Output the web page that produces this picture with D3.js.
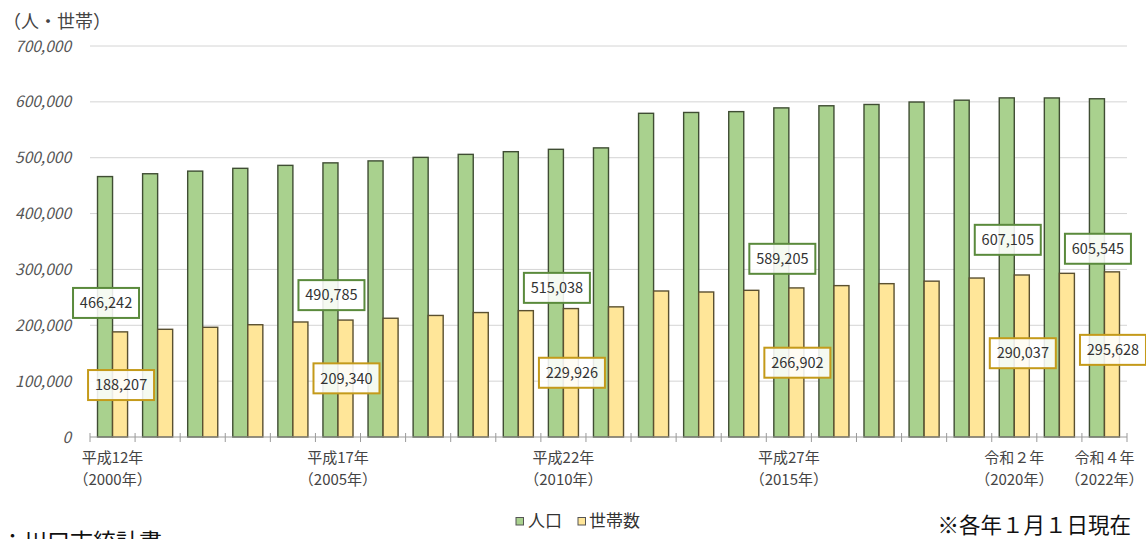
<!DOCTYPE html>
<html lang="ja">
<head>
<meta charset="utf-8">
<script src="https://cdn.jsdelivr.net/npm/d3@7"></script>
<style>
  html, body { margin: 0; padding: 0; background: #fff; }
  svg { display: block; font-family: "Noto Sans CJK JP", "Noto Sans", sans-serif; }
</style>
</head>
<body>
<svg id="chart" width="1146" height="539"></svg>
<script>
// 川口市の人口・世帯数（各年1月1日現在）
const years = d3.range(2000, 2023);
const population = [466242, 471300, 476000, 481000, 486300, 490785, 494300, 500600, 506000, 510800,
                    515038, 517600, 579500, 581000, 582500, 589205, 593000, 595300, 599700, 603000,
                    607105, 607000, 605545];
const households = [188207, 192800, 196400, 201000, 205900, 209340, 212600, 217600, 222800, 226200,
                    229926, 233000, 261400, 259600, 262600, 266902, 271000, 274500, 279000, 284600,
                    290037, 293000, 295628];
const yTicks = [0, 100000, 200000, 300000, 400000, 500000, 600000, 700000];
// 軸ラベルを付ける年（和暦・西暦）
const axisLabels = [
  { year: 2000, era: "平成12年", ad: "（2000年）" },
  { year: 2005, era: "平成17年", ad: "（2005年）" },
  { year: 2010, era: "平成22年", ad: "（2010年）" },
  { year: 2015, era: "平成27年", ad: "（2015年）" },
  { year: 2020, era: "令和２年", ad: "（2020年）" },
  { year: 2022, era: "令和４年", ad: "（2022年）" }
];
const labelledYears = [2000, 2005, 2010, 2015, 2020, 2022];
// 値ラベルの縦位置（y軸の値で指定）
const popLabelAt = [240000, 254000, 267000, 319000, 353000, 337000];
const hhLabelAt = [93000, 105000, 115000, 133000, 150000, 156000];

const series = [
  { key: "pop", name: "人口", values: population, fill: "#a9d18e", stroke: "#3f4d33", box: "#5a8a3c" },
  { key: "hh", name: "世帯数", values: households, fill: "#ffe699", stroke: "#5a5030", box: "#c49a1a" }
];

const svg = d3.select("#chart");
const x = d3.scaleBand().domain(years).range([90, 1127]).padding(0);
const xs = d3.scaleBand().domain(series.map(s => s.key)).range([0, x.bandwidth()])
  .paddingInner(0).paddingOuter(0.5);
const y = d3.scaleLinear().domain([0, 700000]).range([437, 46]);
const fmt = d3.format(",");

// 目盛線
svg.append("g").selectAll("line").data(yTicks.filter(t => t > 0)).join("line")
  .attr("x1", 90).attr("x2", 1127)
  .attr("y1", d => y(d)).attr("y2", d => y(d))
  .attr("stroke", "#d4d4d4").attr("stroke-width", 1);

// y軸ラベル
svg.append("g").selectAll("text").data(yTicks).join("text")
  .attr("x", 71).attr("y", d => y(d))
  .attr("dy", "0.36em")
  .attr("text-anchor", "end")
  .attr("font-size", 15.5).attr("font-style", "italic")
  .attr("fill", "#555")
  .text(d => fmt(d));

// 単位
svg.append("text").attr("x", 3).attr("y", 22).attr("dy", "0.35em")
  .attr("font-size", 18).attr("fill", "#444").text("（人・世帯）");

// 棒
series.forEach(s => {
  svg.append("g").selectAll("rect").data(years).join("rect")
    .attr("x", (d) => x(d) + xs(s.key))
    .attr("width", xs.bandwidth())
    .attr("y", (d, i) => y(s.values[i]))
    .attr("height", (d, i) => y(0) - y(s.values[i]))
    .attr("fill", s.fill)
    .attr("stroke", s.stroke)
    .attr("stroke-width", 1.4);
});

// x軸
const xAxis = svg.append("g");
xAxis.append("line").attr("x1", 90).attr("x2", 1127).attr("y1", y(0)).attr("y2", y(0))
  .attr("stroke", "#9a9a9a").attr("stroke-width", 1);
xAxis.selectAll("line.tick").data(years.concat([null])).join("line")
  .attr("class", "tick")
  .attr("x1", (d, i) => 90 + i * x.step()).attr("x2", (d, i) => 90 + i * x.step())
  .attr("y1", y(0) - 4).attr("y2", y(0) + 5)
  .attr("stroke", "#9a9a9a").attr("stroke-width", 1);
const xl = xAxis.selectAll("g.lab").data(axisLabels).join("g").attr("class", "lab")
  .attr("transform", d => `translate(${x(d.year) + x.bandwidth() / 2},0)`);
xl.append("text").attr("y", 458).attr("dy", "0.35em").attr("text-anchor", "middle")
  .attr("font-size", 15).attr("fill", "#444").text(d => d.era);
xl.append("text").attr("y", 480).attr("dy", "0.35em").attr("text-anchor", "middle")
  .attr("font-size", 15).attr("fill", "#444").text(d => d.ad);

// 値ラベル
function drawLabels(s, at) {
  const g = svg.append("g").selectAll("g").data(labelledYears).join("g")
    .attr("transform", (d, i) => `translate(${x(d) + xs(s.key) + xs.bandwidth() / 2 + 1},${y(at[i])})`);
  g.append("rect").attr("x", -33).attr("y", -15).attr("width", 66).attr("height", 30)
    .attr("fill", "#fff").attr("fill-opacity", 0.88)
    .attr("stroke", s.box).attr("stroke-width", 2);
  g.append("text").attr("text-anchor", "middle").attr("dy", "0.36em")
    .attr("font-size", 14.5).attr("fill", "#333")
    .text(d => fmt(s.values[years.indexOf(d)]));
}
drawLabels(series[0], popLabelAt);
drawLabels(series[1], hhLabelAt);

// 凡例
const legend = svg.append("g");
const legendItems = [
  { s: series[0], x: 516, tx: 528 },
  { s: series[1], x: 578, tx: 589 }
];
legendItems.forEach(it => {
  legend.append("rect").attr("x", it.x).attr("y", 517.5).attr("width", 7.5).attr("height", 7.5)
    .attr("fill", it.s.fill).attr("stroke", "#555").attr("stroke-width", 1);
  legend.append("text").attr("x", it.tx).attr("y", 521).attr("dy", "0.36em")
    .attr("font-size", 17).attr("fill", "#333").text(it.s.name);
});

// 注記・資料
svg.append("text").attr("x", 1131).attr("y", 525).attr("dy", "0.36em").attr("text-anchor", "end")
  .attr("font-size", 21.5).attr("fill", "#111").text("※各年１月１日現在");
svg.append("text").attr("x", 1).attr("y", 550)
  .attr("font-size", 23).attr("fill", "#111").text("：川口市統計書");
</script>
</body>
</html>
